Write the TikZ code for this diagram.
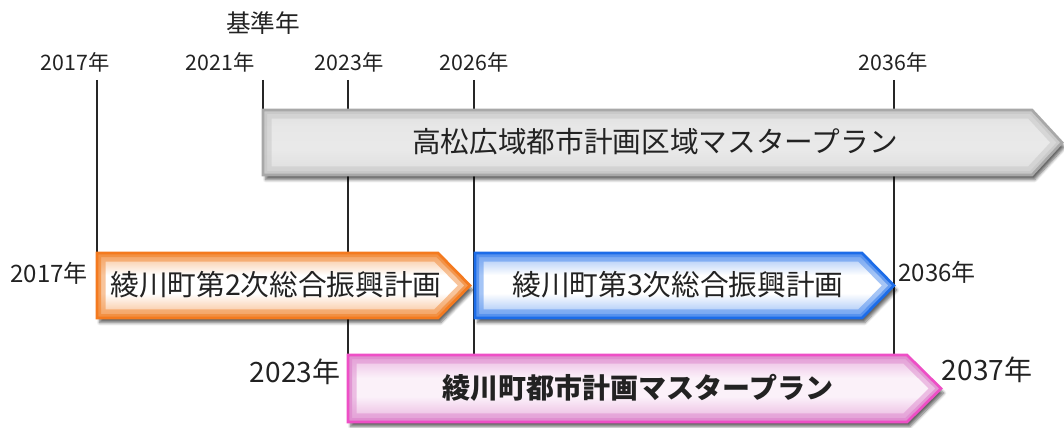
\documentclass[tikz,border=0pt]{standalone}
\usepackage{fontspec}
\setmainfont{Noto Sans CJK JP}
\usetikzlibrary{shadows.blur}
\definecolor{grayedge}{HTML}{A8A8A8}
\definecolor{grayfill}{HTML}{C6C6C6}
\definecolor{orangeedge}{HTML}{F47A1F}
\definecolor{orangefill}{HTML}{F28A38}
\definecolor{blueedge}{HTML}{1C6CE8}
\definecolor{bluefill}{HTML}{4D8CEE}
\definecolor{pinkedge}{HTML}{EE4FC6}
\definecolor{pinkfill}{HTML}{DE8ACE}
\definecolor{txt}{HTML}{222222}
\pgfdeclareverticalshading{graysh}{100bp}{color(0bp)=(grayfill); color(25bp)=(white!40!grayfill); color(45bp)=(white!62!grayfill); color(62bp)=(white!58!grayfill); color(82bp)=(white!35!grayfill); color(100bp)=(grayfill)}
\pgfdeclareverticalshading{orangesh}{100bp}{color(0bp)=(orangefill); color(25bp)=(orangefill!60!white); color(44bp)=(white); color(58bp)=(white); color(76bp)=(orangefill!60!white); color(100bp)=(orangefill)}
\pgfdeclareverticalshading{bluesh}{100bp}{color(0bp)=(bluefill); color(25bp)=(bluefill!60!white); color(44bp)=(white); color(58bp)=(white); color(76bp)=(bluefill!60!white); color(100bp)=(bluefill)}
\pgfdeclareverticalshading{pinksh}{100bp}{color(0bp)=(pinkfill); color(25bp)=(pinkfill!65!white); color(44bp)=(pinkfill!12!white); color(58bp)=(pinkfill!12!white); color(76bp)=(pinkfill!65!white); color(100bp)=(pinkfill)}
\newcommand\plshape[5]{(#1,#4) -- (#2,#4) -- (#3,{(#4+#5)/2}) -- (#2,#5) -- (#1,#5) -- cycle}
\newcommand\planarrow[8]{%
  \path[blur shadow={shadow xshift=2pt,shadow yshift=-3.5pt,shadow opacity=60,shadow blur steps=6}, shading=#2] \plshape{#4}{#5}{#6}{#7}{#8};
  \begin{scope}
    \clip \plshape{#4}{#5}{#6}{#7}{#8};
    \draw[#3, line width=13pt, opacity=.5] \plshape{#4}{#5}{#6}{#7}{#8};
    \draw[#3, line width=6pt, opacity=.75] \plshape{#4}{#5}{#6}{#7}{#8};
  \end{scope}
  \draw[#1, line width=2pt, line join=miter] \plshape{#4}{#5}{#6}{#7}{#8};
}
\tikzset{
  yearline/.style={line width=1.1pt, black!85},
  toplabel/.style={font=\fontsize{16}{18}\selectfont, text=txt, inner sep=0pt},
  midlabel/.style={font=\fontsize{18}{20}\selectfont, text=txt, inner sep=0pt},
  botlabel/.style={font=\fontsize{21}{23}\selectfont, text=txt, inner sep=0pt},
  maintext/.style={font=\fontsize{21.5}{24}\selectfont, text=txt, inner sep=0pt},
}
\begin{document}
\begin{tikzpicture}[x=0.75pt,y=-0.75pt]
\useasboundingbox (0,0) rectangle (1064,428);
% top labels
\node[toplabel, font=\fontsize{18.5}{20}\selectfont] (kijun) at (263,23) {基準年};
\node[toplabel] (y2017) at (75,62) {2017年};
\node[toplabel] (y2021) at (220,62) {2021年};
\node[toplabel] (y2023) at (349,62) {2023年};
\node[toplabel] (y2026) at (474,62) {2026年};
\node[toplabel] (y2036) at (893,62) {2036年};
% tick line ends
\coordinate (t2017a) at (97,80);  \coordinate (t2017b) at (97,253);
\coordinate (t2021a) at (263,80); \coordinate (t2021b) at (263,110);
\coordinate (t2023a) at (348,80); \coordinate (t2023b) at (348,360);
\coordinate (t2026a) at (474,80); \coordinate (t2026b) at (474,360);
\coordinate (t2036a) at (894,80); \coordinate (t2036b) at (894,360);
\draw[yearline] (t2017a) -- (t2017b);
\draw[yearline] (t2021a) -- (t2021b);
\draw[yearline] (t2023a) -- (t2023b);
\draw[yearline] (t2026a) -- (t2026b);
\draw[yearline] (t2036a) -- (t2036b);
% arrows
\planarrow{grayedge}{graysh}{grayfill}{263}{1032}{1062}{110}{175}
\planarrow{orangeedge}{orangesh}{orangefill}{97}{438}{470}{253}{318}
\planarrow{blueedge}{bluesh}{bluefill}{475}{862}{894}{253}{318}
\planarrow{pinkedge}{pinksh}{pinkfill}{348}{907}{941}{355}{422}
% texts
\node[maintext] (gtext) at (655,142) {高松広域都市計画区域マスタープラン};
\node[maintext] (otext) at (276,285) {綾川町第2次総合振興計画};
\node[maintext] (btext) at (678,285) {綾川町第3次総合振興計画};
\node[maintext, font=\fontsize{21}{24}\selectfont\bfseries] (ptext) at (638,388) {綾川町都市計画マスタープラン};
% side labels
\node[midlabel] (s2017) at (49,273) {2017年};
\node[midlabel] (s2036) at (937,272) {2036年};
\node[botlabel] (s2023) at (295,372) {2023年};
\node[botlabel] (s2037) at (987,370) {2037年};
\end{tikzpicture}
\end{document}
